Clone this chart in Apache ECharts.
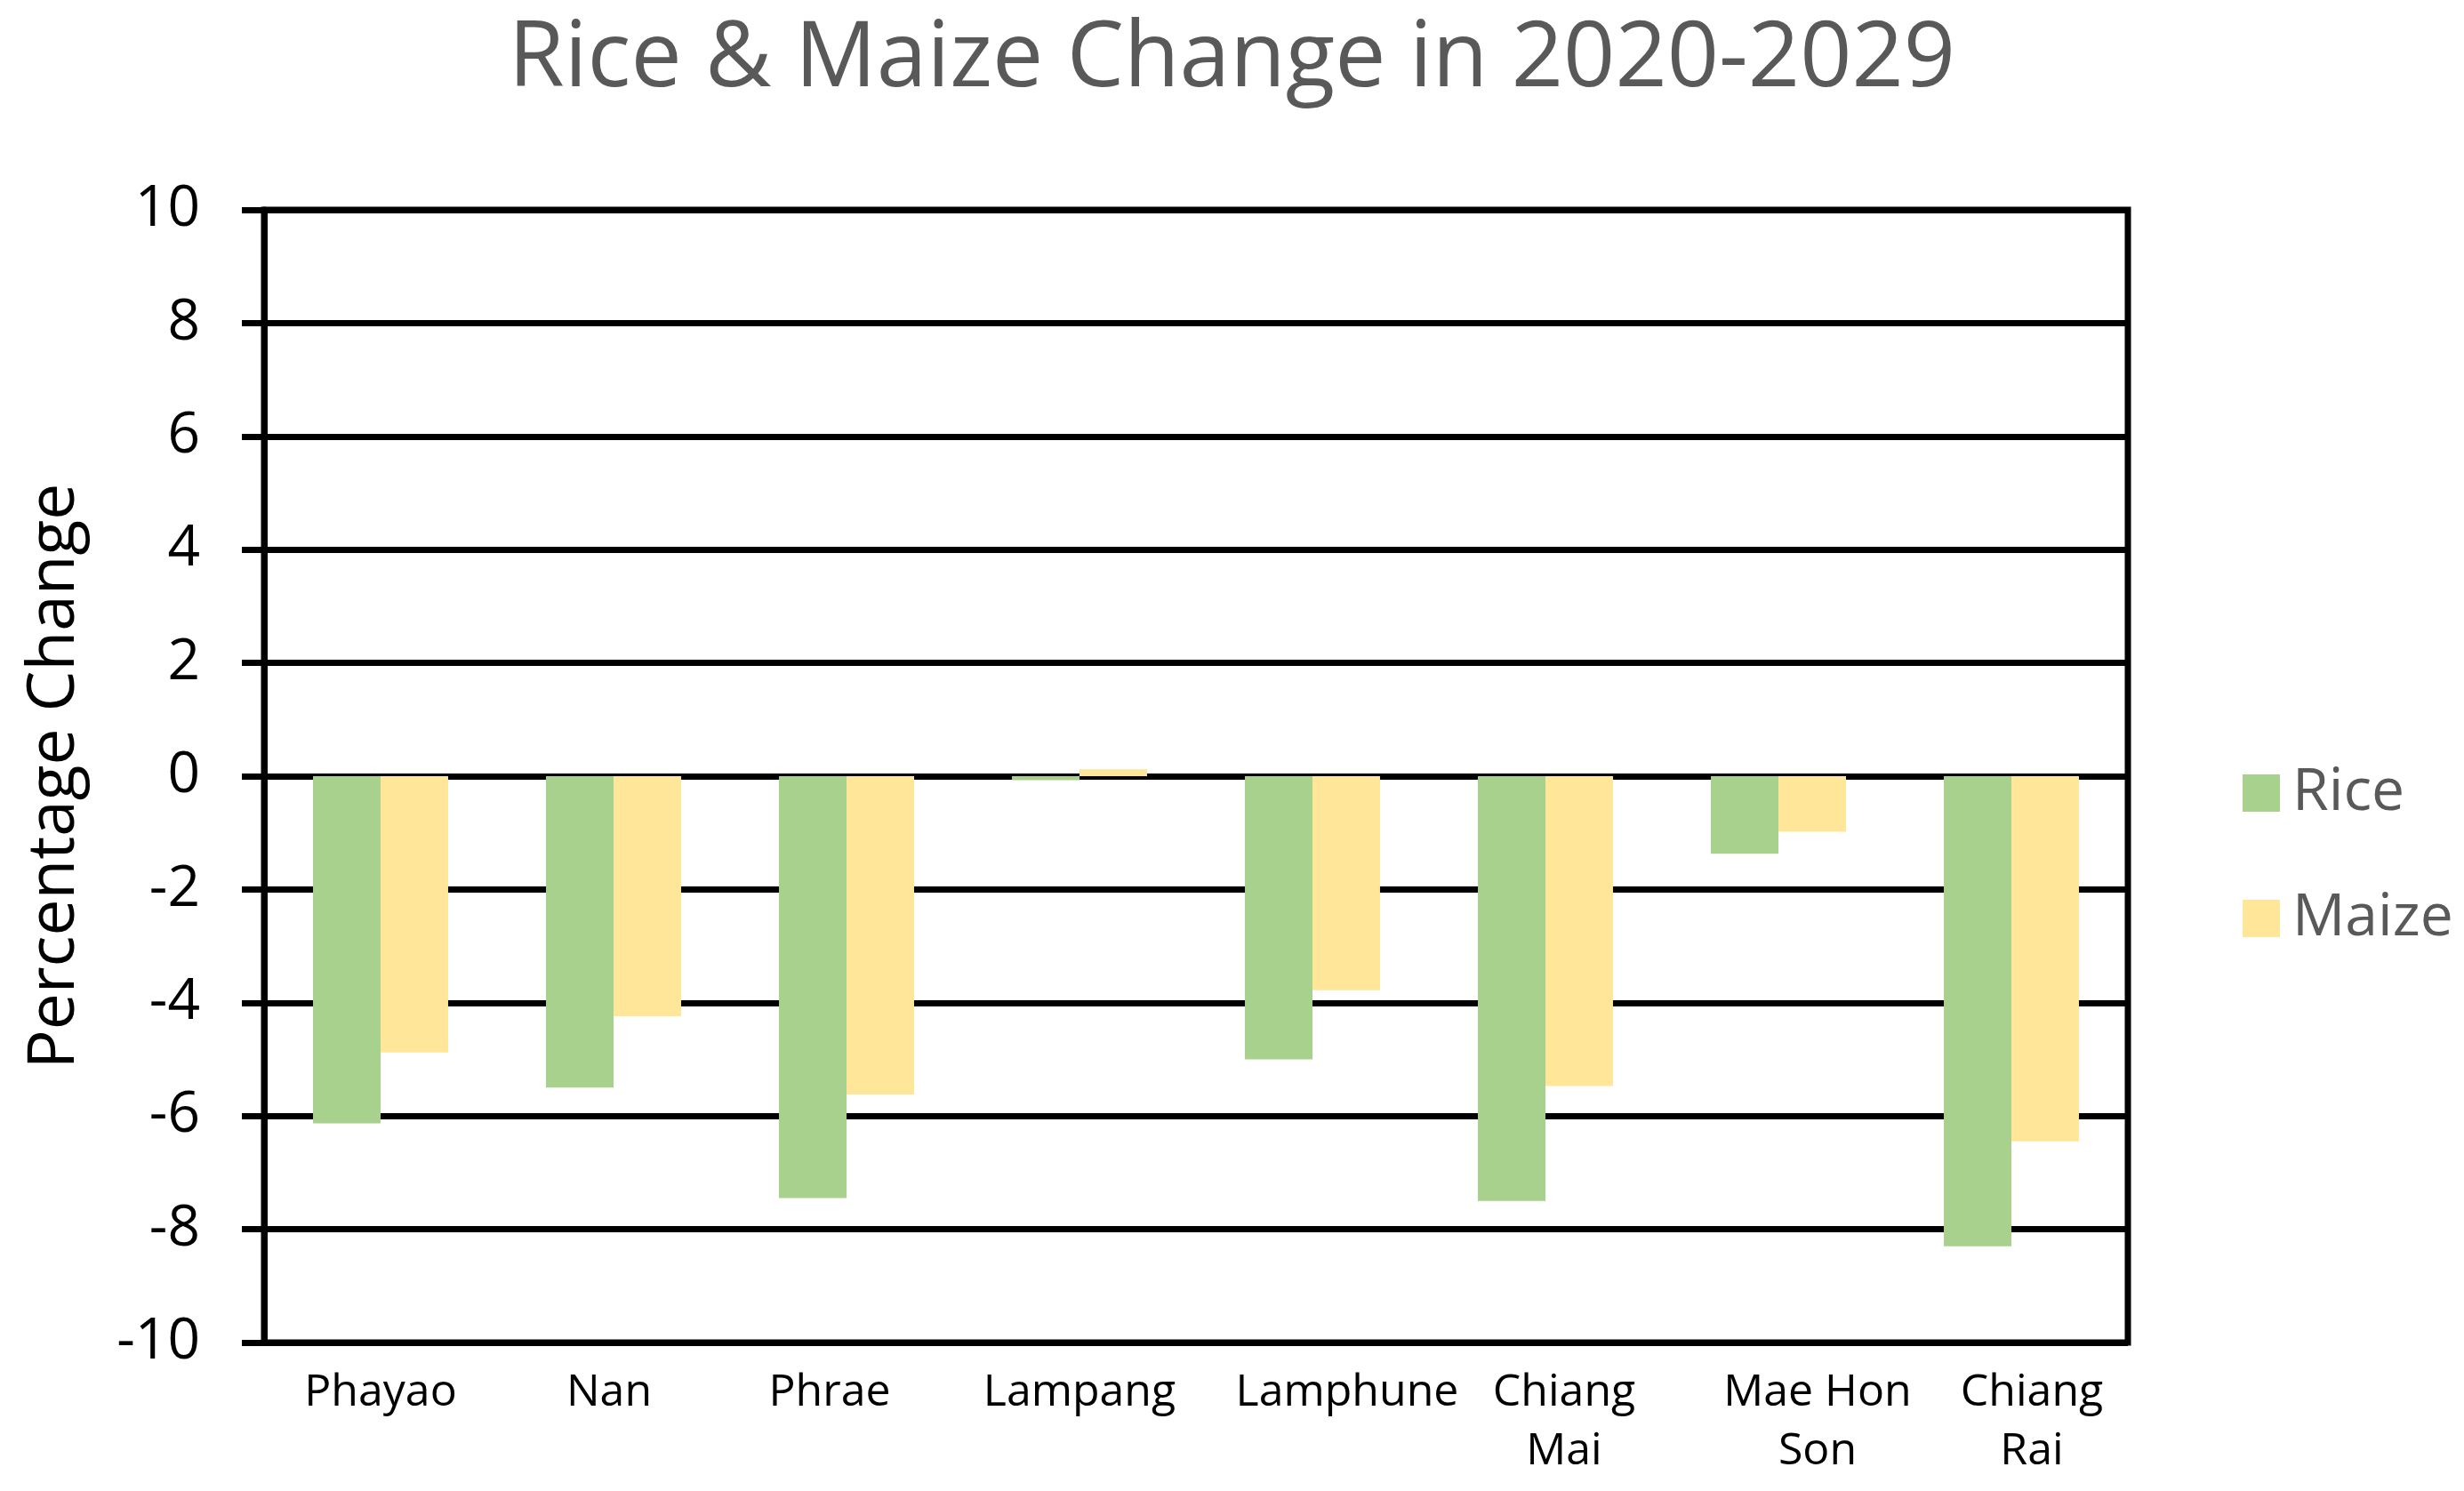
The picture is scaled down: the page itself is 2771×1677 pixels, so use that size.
<!DOCTYPE html>
<html>
<head>
<meta charset="utf-8">
<script src="https://cdn.jsdelivr.net/npm/echarts@6/dist/echarts.min.js"></script>
<style>
html,body{margin:0;padding:0;background:#fff;}
#chart{width:2771px;height:1677px;}
</style>
</head>
<body>
<div id="chart"></div>
<script>
const categories = ['Phayao', 'Nan', 'Phrae', 'Lampang', 'Lamphune', 'Chiang\nMai', 'Mae Hon\nSon', 'Chiang\nRai'];
const riceValues = [-6.13, -5.5, -7.45, -0.07, -5.0, -7.5, -1.37, -8.3];
const maizeValues = [-4.88, -4.24, -5.62, 0.12, -3.78, -5.47, -0.98, -6.45];
const yTicks = { min: -10, max: 10, interval: 2 };
const titleText = 'Rice & Maize Change in 2020-2029';
const yAxisName = 'Percentage Change';

// horizontal nudges of the category labels (style only, px)
const labelShift = [0, -5, -19, 0, 39, 21, 44, 23];

const axisData = categories.map(function (c, i) {
  const d = labelShift[i];
  return {
    value: c,
    textStyle: { padding: d >= 0 ? [0, 0, 0, 2 * d] : [0, -2 * d, 0, 0] }
  };
});

const chart = echarts.init(document.getElementById('chart'), null, { renderer: 'canvas' });
chart.setOption({
  backgroundColor: '#ffffff',
  animation: false,
  title: {
    text: titleText,
    left: 'center',
    top: 12,
    textStyle: { fontFamily: 'Open Sans', fontSize: 102, fontWeight: 'normal', color: '#595959' }
  },
  legend: {
    orient: 'vertical',
    left: 2517,
    top: 854,
    itemWidth: 42,
    itemHeight: 42,
    itemGap: 75,
    icon: 'rect',
    textStyle: { fontFamily: 'Open Sans', fontSize: 66, color: '#595959', padding: [0, 0, 0, 9] },
    data: ['Rice', 'Maize']
  },
  grid: {
    left: 297, right: 378, top: 236, bottom: 167,
    show: true, borderColor: '#000', borderWidth: 7, containLabel: false
  },
  xAxis: {
    type: 'category',
    data: axisData,
    axisLine: { show: false, onZero: false },
    axisTick: { show: false },
    axisLabel: {
      interval: 0, margin: 24, color: '#000', fontFamily: 'Open Sans', fontSize: 50, lineHeight: 66
    },
    splitLine: { show: false }
  },
  yAxis: {
    type: 'value',
    min: yTicks.min, max: yTicks.max, interval: yTicks.interval,
    name: yAxisName,
    nameLocation: 'middle',
    nameGap: 198,
    nameTextStyle: { fontFamily: 'Open Sans', fontSize: 73, color: '#000' },
    axisLine: { show: true, lineStyle: { color: '#000', width: 7 } },
    axisTick: { show: true, length: 25, lineStyle: { color: '#000', width: 7 } },
    axisLabel: { margin: 72, color: '#000', fontFamily: 'Open Sans', fontSize: 64 },
    splitLine: { show: true, lineStyle: { color: '#000', width: 7 } }
  },
  series: [
    { name: 'Rice', type: 'bar', data: riceValues, barGap: '0%', barCategoryGap: '42%',
      itemStyle: { color: '#A9D18E' } },
    { name: 'Maize', type: 'bar', data: maizeValues, barGap: '0%', barCategoryGap: '42%',
      itemStyle: { color: '#FFE699' } }
  ]
});
</script>
</body>
</html>
